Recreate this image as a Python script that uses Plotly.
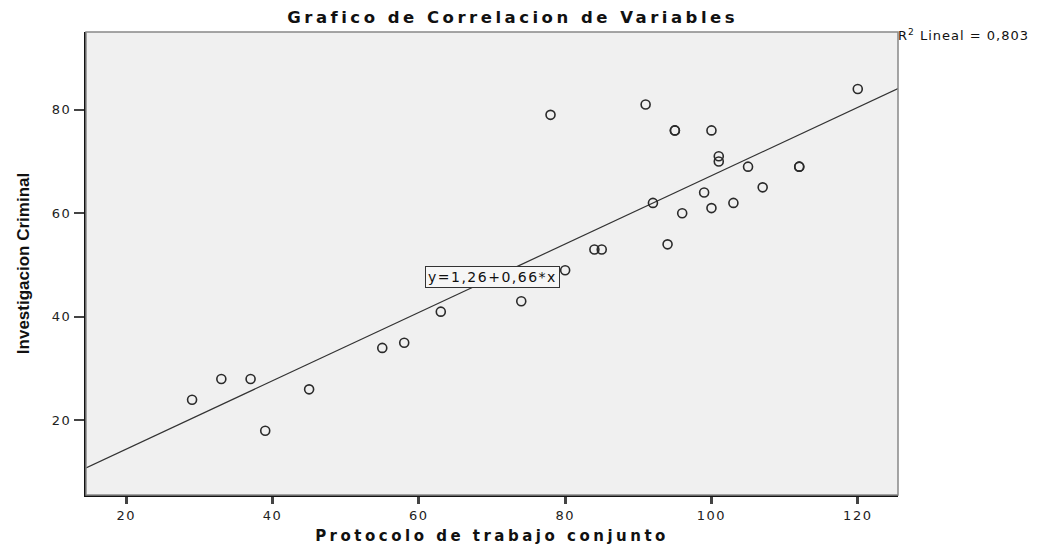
import plotly.graph_objects as go

# Data
protocolo = [29, 33, 37, 39, 45, 55, 58, 63, 74, 80, 78, 84, 85, 91, 92, 95, 95, 96,
             94, 99, 100, 100, 101, 101, 103, 105, 107, 112, 112, 120]
investigacion = [24, 28, 28, 18, 26, 34, 35, 41, 43, 49, 79, 53, 53, 81, 62, 76, 76, 60,
                 54, 64, 76, 61, 71, 70, 62, 69, 65, 69, 69, 84]
intercept = 1.26
slope = 0.66
r2_text = "R<sup>2</sup> Lineal = 0,803"
eq_text = "y=1,26+0,66*x"
title_text = "Grafico de Correlacion de Variables"
x_title = "Protocolo de trabajo conjunto"
y_title = "Investigacion Criminal"

x_range = [14.5, 125.5]
y_range = [5.6, 95]
x_ticks = [20, 40, 60, 80, 100, 120]
y_ticks = [20, 40, 60, 80]


def spaced(text, px):
    return f"<span style='letter-spacing:{px}px'>{text}</span>"


WIDE = "DejaVu Sans, Verdana, sans-serif"

fig = go.Figure()

line_x = x_range
line_y = [intercept + slope * v for v in line_x]
fig.add_trace(go.Scatter(x=line_x, y=line_y, mode="lines",
                         line=dict(color="#333333", width=1.2),
                         hoverinfo="skip", showlegend=False))

fig.add_trace(go.Scatter(x=protocolo, y=investigacion, mode="markers",
                         marker=dict(symbol="circle-open", size=9, color="#2a2a2a",
                                     line=dict(color="#2a2a2a", width=1.6)),
                         showlegend=False))

fig.add_shape(type="rect", xref="paper", yref="paper", x0=0, y0=0, x1=1, y1=1,
              line=dict(color="#888888", width=1.5), layer="above")

fig.add_annotation(x=70.1, y=47.6, text=spaced(eq_text, 1.5), showarrow=False,
                   bgcolor="#F6F6F6", bordercolor="#333333", borderwidth=1, borderpad=2,
                   font=dict(family=WIDE, size=14, color="#111"))

fig.add_annotation(x=1.0, y=1.0, xref="paper", yref="paper", xanchor="left", yanchor="top",
                   text=spaced(r2_text, 1), showarrow=False, yshift=7, xshift=-2,
                   font=dict(family=WIDE, size=13, color="#111"))

fig.update_layout(
    width=1042, height=554,
    margin=dict(l=86, r=144, t=32, b=55),
    paper_bgcolor="white",
    plot_bgcolor="#F0F0F0",
    title=dict(text="<b>" + spaced(title_text, 3.5) + "</b>",
               x=0.492, xanchor="center", y=1 - 17 / 554, yanchor="middle",
               font=dict(family=WIDE, size=16.5, color="#111")),
    xaxis=dict(range=x_range, tickvals=x_ticks,
               ticktext=[spaced(str(v), 1.5) for v in x_ticks],
               showgrid=False, zeroline=False,
               showline=True, linecolor="#111", linewidth=2,
               ticks="outside", ticklen=7, tickwidth=2.5, tickcolor="#444",
               tickfont=dict(family=WIDE, size=13, color="#222"),
               title=dict(text="<b>" + spaced(x_title, 3.5) + "</b>", standoff=9,
                          font=dict(family=WIDE, size=15, color="#111"))),
    yaxis=dict(range=y_range, tickvals=y_ticks,
               ticktext=[spaced(str(v), 1.5) for v in y_ticks],
               showgrid=False, zeroline=False,
               showline=True, linecolor="#111", linewidth=2,
               ticks="outside", ticklen=10, tickwidth=1.5, tickcolor="#444",
               tickfont=dict(family=WIDE, size=13, color="#222"),
               title=dict(text="<b>" + y_title + "</b>", standoff=18,
                          font=dict(family="Liberation Sans Narrow, Arial Narrow, Liberation Sans, sans-serif",
                                    size=17, color="#111"))),
)

fig.write_html("out.html", config={"displayModeBar": False},
               post_script="document.body.style.margin='0px';")
